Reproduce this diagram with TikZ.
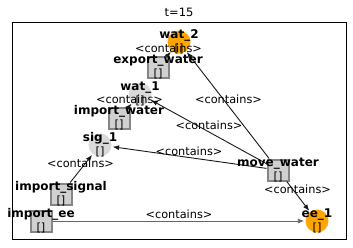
\documentclass[tikz,border=0pt]{standalone}
\usepackage{fontspec}
\setmainfont{DejaVu Sans}
\usetikzlibrary{arrows.meta,calc}
\definecolor{sqfill}{HTML}{D0D0D0}
\definecolor{sqline}{HTML}{858585}
\definecolor{cgray}{HTML}{DADADA}
\definecolor{corange}{HTML}{FFA500}
\tikzset{
  sq/.style={rectangle, minimum size=21pt, inner sep=0pt, fill=sqfill, draw=sqline, line width=2pt},
  orangec/.style={circle, minimum size=23pt, inner sep=0pt, fill=corange},
  grayc/.style={circle, minimum size=23pt, inner sep=0pt, fill=cgray},
  nm/.style={font=\fontsize{12}{13}\selectfont\bfseries, inner sep=0pt},
  br/.style={font=\fontsize{11.3}{12}\selectfont, inner sep=0pt},
  lbl/.style={font=\fontsize{11.3}{12}\selectfont, inner sep=0pt},
  edge/.style={draw=black!90, line width=0.9pt, -{Latex[length=6.5pt,width=5pt]}, shorten >=1pt},
}
\begin{document}
\begin{tikzpicture}[x=1pt,y=-1pt]
\useasboundingbox (0,0) rectangle (353,247);
\draw[line width=0.9pt] (12,22) rectangle (346,239);
\node[font=\fontsize{11.5}{12}\selectfont] (title) at (179,12) {t=15};

% nodes
\node[orangec] (wat2) at (179,42) {};
\node[sq] (expw) at (158,67) {};
\node[grayc] (wat1) at (140,94) {};
\node[sq] (impw) at (119,118) {};
\node[grayc] (sig1) at (100,145) {};
\node[sq] (imps) at (61,194) {};
\node[sq] (impee) at (41,221) {};
\node[sq] (movw) at (278,170) {};
\node[orangec] (ee1) at (317,221) {};

% connectors
\path[edge] (expw) -- (wat2);
\path[edge] (movw) -- (wat2);
\path[edge] (impw) -- (wat1);
\path[edge] (movw) -- (wat1);
\path[edge] (movw) -- (sig1);
\path[edge] (imps) -- (sig1);
\path[edge] (movw) -- (ee1);
\path[edge, draw=black!60] (impee) -- (ee1);

% connector labels
\foreach \a/\b/\n in {expw/wat2/l1, movw/wat2/l2, impw/wat1/l3, movw/wat1/l4, movw/sig1/l5, imps/sig1/l6, movw/ee1/l7, impee/ee1/l8}
  \node[lbl] (\n) at ($(\a)!0.5!(\b)+(0,-6.5)$) {<contains>};

% node texts
\foreach \p/\t in {wat2/wat\_2, expw/export\_water, wat1/wat\_1, impw/import\_water, sig1/sig\_1, imps/import\_signal, impee/import\_ee, movw/move\_water, ee1/ee\_1}{
  \node[nm] (\p-name) at ($(\p)+(0,-6.5)$) {\t};
  \node[br] (\p-val) at ($(\p)+(0,6.5)$) {[]};
}
\end{tikzpicture}
\end{document}
